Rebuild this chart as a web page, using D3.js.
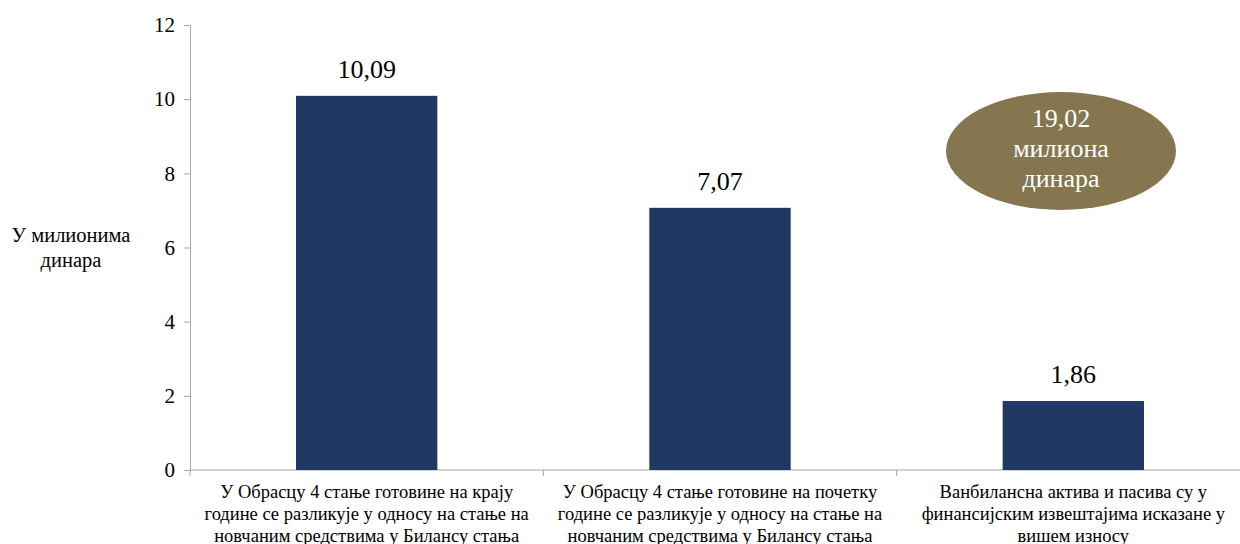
<!DOCTYPE html>
<html>
<head>
<meta charset="utf-8">
<script src="https://cdn.jsdelivr.net/npm/d3@7"></script>
<style>
  body { margin: 0; background: #fff; }
  svg text { font-family: "Liberation Serif", "Times New Roman", serif; }
</style>
</head>
<body>
<div id="chart"></div>
<script>
var categories = [
    ['У Обрасцу 4 стање готовине на крају', 'године се разликује у односу на стање на', 'новчаним средствима у Билансу стања'],
    ['У Обрасцу 4 стање готовине на почетку', 'године се разликује у односу на стање на', 'новчаним средствима у Билансу стања'],
    ['Ванбилансна актива и пасива су у', 'финансијским извештајима исказане у', 'вишем износу']
];
var values = [10.09, 7.07, 1.86];
var yTicks = [0, 2, 4, 6, 8, 10, 12];
var yTitle = ['У милионима', 'динара'];
var bubbleLines = ['19,02', 'милиона', 'динара'];

var width = 1240, height = 544;
var margin = { left: 190, top: 25, bottom: 74 };
var plotRight = 1250;
var serif = '"Liberation Serif", "Times New Roman", serif';

var svg = d3.select('#chart').append('svg')
    .attr('width', width)
    .attr('height', height);

var x = d3.scaleBand()
    .domain(d3.range(categories.length))
    .range([margin.left, plotRight])
    .paddingInner(0.6)
    .paddingOuter(0.3);

var step = (plotRight - margin.left) / categories.length;

var y = d3.scaleLinear()
    .domain([0, 12])
    .range([height - margin.bottom, margin.top]);

var axisColor = '#a6a6a6';

// y axis
var yAxis = svg.append('g')
    .attr('transform', 'translate(' + margin.left + ',0)')
    .call(d3.axisLeft(y).tickValues(yTicks).tickSize(6).tickPadding(9));
yAxis.attr('font-family', serif);
yAxis.select('.domain').attr('stroke', axisColor);
yAxis.selectAll('.tick line').attr('stroke', axisColor);
yAxis.selectAll('.tick text')
    .attr('fill', '#000')
    .style('font-family', serif)
    .style('font-size', '21px');

// x axis line and category ticks
var x0 = y(0);
svg.append('line')
    .attr('x1', margin.left).attr('x2', plotRight)
    .attr('y1', x0).attr('y2', x0)
    .attr('stroke', axisColor);
svg.selectAll('line.cat-tick')
    .data(d3.range(categories.length + 1))
    .join('line')
    .attr('class', 'cat-tick')
    .attr('x1', function(i) { return margin.left + i * step; })
    .attr('x2', function(i) { return margin.left + i * step; })
    .attr('y1', x0).attr('y2', x0 + 6)
    .attr('stroke', axisColor);

// bars
svg.selectAll('rect.bar')
    .data(values)
    .join('rect')
    .attr('class', 'bar')
    .attr('x', function(d, i) { return x(i); })
    .attr('width', x.bandwidth())
    .attr('y', function(d) { return y(d); })
    .attr('height', function(d) { return y(0) - y(d); })
    .attr('fill', '#1f3864');

// value labels
svg.selectAll('text.val')
    .data(values)
    .join('text')
    .attr('class', 'val')
    .attr('x', function(d, i) { return x(i) + x.bandwidth() / 2; })
    .attr('y', function(d) { return y(d) - 18; })
    .attr('text-anchor', 'middle')
    .style('font-family', serif)
    .style('font-size', '26px')
    .text(function(d) { return d.toFixed(2).replace('.', ','); });

// category labels
categories.forEach(function(lines, i) {
    var t = svg.append('text')
        .attr('text-anchor', 'middle')
        .style('font-family', serif)
        .style('font-size', '18.5px');
    lines.forEach(function(l, j) {
        t.append('tspan')
            .attr('x', x(i) + x.bandwidth() / 2)
            .attr('y', x0 + 28 + j * 22)
            .text(l);
    });
});

// y title
var yt = svg.append('text')
    .attr('text-anchor', 'middle')
    .style('font-family', serif)
    .style('font-size', '20.5px');
yTitle.forEach(function(l, j) {
    yt.append('tspan')
        .attr('x', 71)
        .attr('y', 242 + j * 25)
        .text(l);
});

// bubble
svg.append('ellipse')
    .attr('cx', 1061).attr('cy', 151)
    .attr('rx', 115).attr('ry', 59)
    .attr('fill', '#85764f');
var bt = svg.append('text')
    .attr('text-anchor', 'middle')
    .attr('fill', '#fff')
    .style('font-family', serif)
    .style('font-size', '26px');
bubbleLines.forEach(function(l, j) {
    bt.append('tspan')
        .attr('x', 1061)
        .attr('y', 127 + j * 30)
        .text(l);
});
</script>
</body>
</html>
